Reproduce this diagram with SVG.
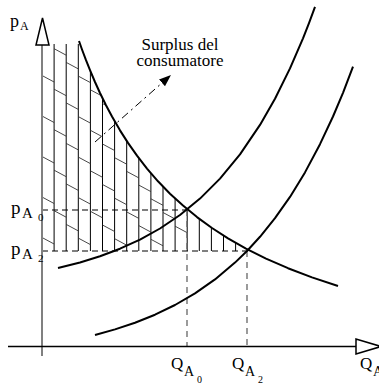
<svg xmlns="http://www.w3.org/2000/svg" width="379" height="383" viewBox="0 0 379 383">
<style>
.curve{fill:none;stroke:#000;stroke-width:2;stroke-linejoin:round;stroke-linecap:butt}
.hv{fill:none;stroke:#000;stroke-width:1}
.hd{fill:none;stroke:#333;stroke-width:0.9}
.dash{fill:none;stroke:#000;stroke-width:1;stroke-dasharray:6 4}
.vdash{fill:none;stroke:#666;stroke-width:1.3;stroke-dasharray:6 5}
.t{font-family:"Liberation Serif","Times New Roman",serif;fill:#000}
</style>
<defs>
<clipPath id="hatchClip">
<polygon points="42,44 80,44 82,49.5 86,60.2 90,70.2 95,82 100,93 106,105.2 112,116.5 120,130.35 128,142.9 137,155.7 147,168.6 158,181.3 170,193.7 183,205.6 197,217.1 212,228 228,238.3 246,248.6 250.6,251 42,251"/>
</clipPath>
<clipPath id="diagClip">
<polygon points="42,44 80,44 82,49.5 86,60.2 90,70.2 95,82 100,93 106,105.2 112,116.5 120,130.35 128,142.9 137,155.7 147,168.6 158,181.3 170,193.7 183,205.6 187.2,209.2 187.2,251 42,251"/>
</clipPath>
<marker id="arrowHead" markerUnits="userSpaceOnUse" markerWidth="13" markerHeight="10" refX="12" refY="4.5" orient="auto">
<path d="M0,0 L12,4.5 L0,9 Z" fill="#000"/>
</marker>
</defs>

<g id="hatch">
<path class="hv" clip-path="url(#hatchClip)" d="M54.1 44V251M66.2 44V251M78.3 44V251M90.4 44V251M102.5 44V251M114.6 44V251M126.7 44V251M138.8 44V251M150.9 44V251M163 44V251M175.1 44V251M187.2 44V251M199.3 44V251M211.4 44V251M223.5 44V251M235.6 44V251M247.7 44V251"/>
<path class="hd" clip-path="url(#diagClip)" d="M42 75.5l12.1 6.5M42 116l12.1 6.5M42 156.5l12.1 6.5M42 197l12.1 6.5M42 237.5l12.1 6.5
M54.1 48.7l12.1 6.5M54.1 89.2l12.1 6.5M54.1 129.7l12.1 6.5M54.1 170.2l12.1 6.5M54.1 210.7l12.1 6.5
M66.2 62.4l12.1 6.5M66.2 102.9l12.1 6.5M66.2 143.4l12.1 6.5M66.2 183.9l12.1 6.5M66.2 224.4l12.1 6.5
M78.3 76.1l12.1 6.5M78.3 116.6l12.1 6.5M78.3 157.1l12.1 6.5M78.3 197.6l12.1 6.5M78.3 238.1l12.1 6.5
M90.4 89.8l12.1 6.5M90.4 130.3l12.1 6.5M90.4 170.8l12.1 6.5M90.4 211.3l12.1 6.5
M102.5 103.5l12.1 6.5M102.5 144l12.1 6.5M102.5 184.5l12.1 6.5M102.5 225l12.1 6.5
M114.6 117.2l12.1 6.5M114.6 157.7l12.1 6.5M114.6 198.2l12.1 6.5M114.6 238.7l12.1 6.5
M126.7 130.9l12.1 6.5M126.7 171.4l12.1 6.5M126.7 211.9l12.1 6.5
M138.8 144.6l12.1 6.5M138.8 185.1l12.1 6.5M138.8 225.6l12.1 6.5
M150.9 158.3l12.1 6.5M150.9 198.8l12.1 6.5M150.9 239.3l12.1 6.5
M163 172l12.1 6.5M163 212.5l12.1 6.5
M175.1 185.7l12.1 6.5M175.1 226.2l12.1 6.5"/>
</g>

<g id="guides">
<path class="dash" d="M42 210H187M42 251H247"/>
<path class="vdash" d="M187 210V346M247 251V346"/>
</g>

<g id="axes">
<line x1="42" y1="45" x2="42" y2="356" stroke="#808080" stroke-width="2"/>
<polygon points="36,45 49,45 42.5,18" fill="#fff" stroke="#000" stroke-width="1.5"/>
<line x1="8" y1="346.5" x2="356" y2="346.5" stroke="#000" stroke-width="1.5"/>
<polygon points="356,339 356,354 381,346.5" fill="#fff" stroke="#000" stroke-width="1.5"/>
</g>

<g id="demand">
<polyline class="curve" points="79,41 82,49.5 86,60.2 90,70.2 95,82 100,93 106,105.2 112,116.5 120,130.35 128,142.9 137,155.7 147,168.6 158,181.3 170,193.7 183,205.6 197,217.1 212,228 228,238.3 246,248.6 266,258.6 288,268.2 312,277.4 338,286"/>
</g>
<g id="supply1">
<polyline class="curve" points="58,268 80,262.5 100,256.3 120,248.7 140,239.6 160,228.5 180,215 200,198.6 220,178.6 240,154.4 260,124.9 275,98.7 290,68.4 303,38.3 309,23.1 315,6.9"/>
</g>
<g id="supply2">
<polyline class="curve" points="95,335 115,329.4 135,322.7 155,314.7 175,305 195,293.4 215,279.4 235,262.6 247,251 260,236.8 275,218.2 290,196.9 305,172.4 320,144.2 333,116.5 343,92.8 353,66.7"/>
</g>

<g id="connectors">
<line x1="95" y1="142" x2="171" y2="75" stroke="#000" stroke-width="1" stroke-dasharray="8 4 2 4" marker-end="url(#arrowHead)"/>
</g>

<g id="label-surplus">
<text class="t" font-size="17" text-anchor="middle"><tspan x="180" y="50">Surplus del</tspan><tspan x="180" y="66">consumatore</tspan></text>
</g>

<g id="labels">
<text class="t" x="10" y="27" font-size="18">p</text>
<text class="t" x="20" y="30" font-size="12">A</text>

<text class="t" x="11" y="214" font-size="19">p</text>
<text class="t" x="22" y="218" font-size="15">A</text>
<text class="t" x="38" y="221" font-size="11">0</text>

<text class="t" x="11" y="255" font-size="19">p</text>
<text class="t" x="22" y="259" font-size="15">A</text>
<text class="t" x="38" y="262" font-size="11">2</text>

<text class="t" x="171" y="369" font-size="17">Q</text>
<text class="t" x="184" y="376" font-size="14">A</text>
<text class="t" x="197" y="382.5" font-size="10">0</text>

<text class="t" x="232" y="369" font-size="17">Q</text>
<text class="t" x="245" y="376" font-size="14">A</text>
<text class="t" x="258" y="382.5" font-size="10">2</text>

<text class="t" x="360" y="369" font-size="17">Q</text>
<text class="t" x="373" y="376" font-size="14">A</text>
</g>
</svg>
